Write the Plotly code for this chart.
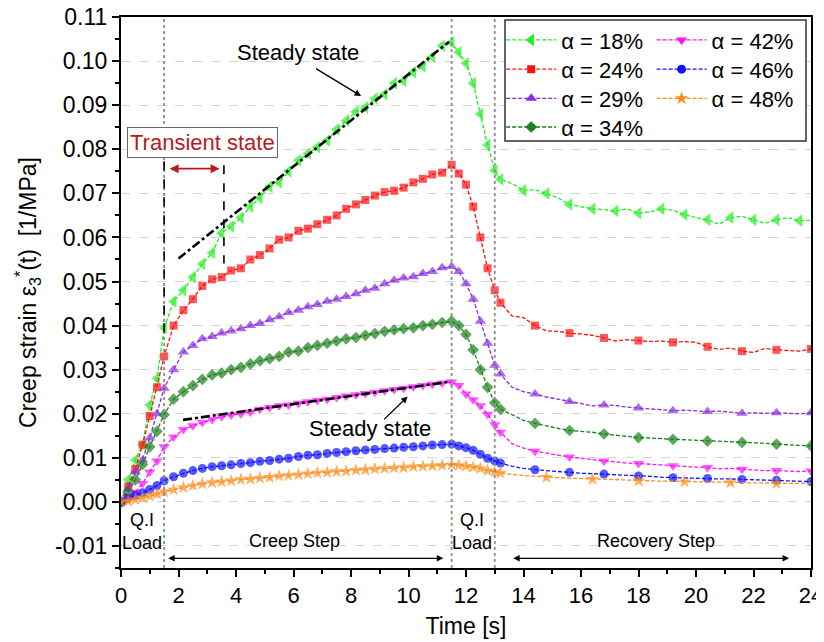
import plotly.graph_objects as go

# ---------------- data ----------------
t_load = [0, 0.25, 0.5, 0.75, 1.0, 1.25, 1.5]
t_creep = [1.83, 2.17, 2.5, 2.83, 3.17, 3.5, 3.83, 4.17, 4.5, 4.83, 5.17, 5.5, 5.83, 6.17, 6.5,
           6.83, 7.17, 7.5, 7.83, 8.17, 8.5, 8.83, 9.17, 9.5, 9.83, 10.17, 10.5, 10.83, 11.17, 11.5]
t_unload = [11.75, 12.0, 12.25, 12.5, 12.75, 13.0]
t_recovery = [13.2, 13.6, 14.0, 14.4, 14.8, 15.2, 15.6, 16.0, 16.4, 16.8, 17.2, 17.6, 18.0, 18.4,
              18.8, 19.2, 19.6, 20.0, 20.4, 20.8, 21.2, 21.6, 22.0, 22.4, 22.8, 23.2, 23.6, 24.0]
time = t_load + t_creep + t_unload + t_recovery

labels = ["α = 18%", "α = 24%", "α = 29%", "α = 34%", "α = 42%", "α = 46%", "α = 48%"]

a18 = [0, .005, .0095, .013, .022, .028, .0395,
       .0455, .048, .051, .054, .0565, .061, .0625, .0645, .067, .069, .0715, .0725, .075, .0775, .079,
       .0805, .082, .0845, .0865, .0885, .0895, .0915, .0925, .0950, .0955, .0975, .0988, .101, .1035, .1042,
       .102, .0995, .095, .088, .081, .0752,
       .0732, .0722, .0707, .0708, .070, .069, .0675, .067, .0665, .0663, .066, .0665, .0655, .0658,
       .0665, .0662, .0652, .0645, .064, .063, .0645, .0648, .064, .0632, .064, .0645, .0638, .0639]
a24 = [0, .0035, .0075, .013, .0195, .026, .033,
       .040, .0435, .046, .049, .0505, .051, .0525, .053, .055, .056, .0575, .0595, .060, .0615, .062,
       .063, .064, .065, .0665, .0675, .0685, .0695, .0703, .0706, .0713, .0725, .0733, .0743, .0747, .0765,
       .0745, .072, .067, .060, .053, .048,
       .0452, .0422, .0418, .040, .0388, .0387, .0383, .0381, .0378, .0372, .0365, .0368, .0366, .0364,
       .0365, .0362, .0364, .0362, .0352, .0346, .0349, .0342, .0339, .0348, .0345, .0343, .0342, .0347]
a29 = [0, .003, .0068, .0095, .0145, .020, .0258,
       .030, .034, .0355, .037, .0375, .0383, .0388, .0393, .040, .0405, .0413, .042, .043, .0435, .0443,
       .0448, .0455, .046, .0466, .0472, .048, .0485, .0495, .0503, .0508, .0511, .0518, .0523, .0531, .0534,
       .0523, .0495, .046, .041, .036, .031,
       .029, .026, .025, .0245, .0238, .0233, .0228, .0224, .0218, .022, .0219, .0215, .0213, .0211,
       .021, .0207, .0208, .0206, .0205, .0206, .0203, .0201, .0202, .0201, .0202, .0201, .0200, .0202]
a34 = [0, .0022, .005, .0085, .0125, .016, .0198,
       .0233, .025, .0264, .0278, .0288, .0292, .030, .0305, .0313, .032, .0325, .033, .034, .0342, .035,
       .0355, .036, .0365, .037, .0373, .0378, .0382, .0387, .039, .0393, .0395, .040, .0403, .0407, .041,
       .040, .038, .0345, .030, .026, .0225,
       .021, .0198, .0185, .0178, .0172, .0167, .0162, .016, .0158, .0154, .0151, .0148, .0146, .0145,
       .0143, .0142, .0141, .014, .0138, .0137, .0136, .0135, .0134, .0133, .0131, .013, .0128, .0127]
a42 = [0, .0009, .0022, .0042, .0068, .0093, .0125,
       .0147, .0164, .0173, .018, .0187, .0193, .0197, .020, .0204, .021, .0214, .0218, .022, .0224, .0227,
       .023, .0233, .0237, .024, .0243, .0246, .0249, .0252, .0255, .0258, .0261, .0264, .0267, .027, .0272,
       .0264, .0245, .0232, .0218, .0199, .0175,
       .0158, .0132, .0122, .0115, .011, .0106, .0102, .0099, .0095, .0093, .0091, .0088, .0087, .0086,
       .0084, .0082, .008, .0079, .0078, .0075, .0076, .0074, .0072, .0071, .0071, .007, .0069, .007]
a46 = [0, .0008, .0015, .0021, .0028, .0037, .0048,
       .0057, .0065, .0071, .0076, .008, .0082, .0084, .0087, .0089, .0092, .0094, .0097, .0099, .0103, .0106,
       .0107, .011, .0112, .0114, .0116, .0118, .0119, .0121, .0122, .0124, .0125, .0127, .0129, .013, .0131,
       .0127, .0123, .0117, .0108, .0099, .0093,
       .0088, .0081, .0076, .0073, .0071, .0068, .0067, .0065, .0064, .0063, .0062, .006, .0059, .0058,
       .0056, .0055, .0054, .0053, .0053, .0052, .0052, .0051, .005, .0049, .0049, .0048, .0047, .0046]
a48 = [0, .0002, .0005, .0009, .0013, .0018, .0023,
       .0028, .0033, .0037, .0041, .0044, .0046, .0048, .0051, .0052, .0054, .0056, .0059, .006, .0062, .0064,
       .0066, .0067, .0069, .007, .0072, .0073, .0075, .0076, .0077, .0078, .008, .0081, .0082, .0083, .0084,
       .0083, .0081, .0079, .0076, .0071, .0068,
       .0066, .0062, .006, .0058, .0056, .0055, .0054, .0053, .0052, .0052, .005, .0049, .0048, .0048,
       .0047, .0047, .0046, .0046, .0045, .0045, .0044, .0044, .0043, .0043, .0042, .0042, .0042, .0042]

series = [a18, a24, a29, a34, a42, a46, a48]

# steady-state guide lines
steady1_x = [2.0, 11.41]
steady1_y = [0.0552, 0.1044]
steady2_x = [2.16, 11.47]
steady2_y = [0.0186, 0.0273]

x_ticks = [0, 2, 4, 6, 8, 10, 12, 14, 16, 18, 20, 22, 24]
y_ticks = [-0.01, 0.0, 0.01, 0.02, 0.03, 0.04, 0.05, 0.06, 0.07, 0.08, 0.09, 0.10, 0.11]

# ---------------- style ----------------
colors = ["#22ee22", "#ff1010", "#8a2be2", "#1a801a", "#ff10ff", "#1010ff", "#ff8c1a"]
symbols = ["triangle-left", "square", "triangle-up", "diamond", "triangle-down", "circle", "star"]
msize = [11, 8, 10, 9, 10, 9, 10]
rec_every = [2, 3, 3, 3, 3, 3, 4]
# legend placement (paper coords): column x, row y
leg_x = [0.551, 0.551, 0.551, 0.551, 0.769, 0.769, 0.769]
leg_y = [0.958, 0.905, 0.852, 0.800, 0.958, 0.905, 0.852]

FONT = "Arial, Liberation Sans, sans-serif"
n_main = len(t_load) + len(t_creep) + len(t_unload)

fig = go.Figure()

for i, vals in enumerate(series):
    sizes = []
    for k in range(len(time)):
        if k < n_main:
            sizes.append(msize[i])
        else:
            j = k - n_main
            sizes.append(msize[i] if j % rec_every[i] == 0 else 0)
    fig.add_trace(go.Scatter(
        x=time, y=vals, mode="lines+markers", showlegend=False,
        line=dict(color=colors[i], width=1.3, dash="4px,2px"),
        marker=dict(symbol=symbols[i], size=sizes, color=colors[i], line=dict(width=0)),
    ))

for x_, y_ in [(steady1_x, steady1_y), (steady2_x, steady2_y)]:
    fig.add_trace(go.Scatter(x=x_, y=y_, mode="lines", showlegend=False,
                             line=dict(color="black", width=2.6, dash="dashdot")))

# legend-only entries, one legend per entry for exact placement
legend_layouts = {}
for i in range(len(series)):
    lid = "legend" if i == 0 else "legend%d" % (i + 1)
    fig.add_trace(go.Scatter(
        x=[None], y=[None], mode="lines+markers", name=labels[i], legend=lid,
        line=dict(color=colors[i], width=1.3, dash="4px,2px"),
        marker=dict(symbol=symbols[i], size=msize[i], color=colors[i], line=dict(width=0)),
    ))
    legend_layouts[lid] = dict(x=leg_x[i], y=leg_y[i], xanchor="left", yanchor="middle",
                               bgcolor="rgba(0,0,0,0)", borderwidth=0,
                               font=dict(size=22, family=FONT, color="black"), itemwidth=50)

shapes = []
for xv in [1.5, 11.5, 13.0]:
    shapes.append(dict(type="line", xref="x", yref="paper", x0=xv, x1=xv, y0=0, y1=1,
                       line=dict(color="#8c8c8c", width=1.8, dash="dot"), layer="above"))
shapes.append(dict(type="line", xref="x", yref="y", x0=1.5, x1=1.5, y0=0.0773, y1=0.0385,
                   line=dict(color="black", width=1.6, dash="dash"), layer="above"))
shapes.append(dict(type="line", xref="x", yref="y", x0=3.58, x1=3.58, y0=0.0764, y1=0.0541,
                   line=dict(color="black", width=1.6, dash="dash"), layer="above"))
shapes.append(dict(type="rect", xref="paper", yref="paper", x0=0.5565, x1=0.9928, y0=0.775, y1=0.9946,
                   line=dict(color="#333333", width=1.5), fillcolor="white", layer="above"))

ann = []
def arrow(x_head, y_head, x_tail, y_tail, color="black", width=1.3, both=False, size=1.0):
    ann.append(dict(x=x_head, y=y_head, ax=x_tail, ay=y_tail, xref="x", yref="y", axref="x", ayref="y",
                    text="", showarrow=True, arrowhead=2, arrowsize=size, arrowwidth=width,
                    arrowcolor=color, arrowside="end+start" if both else "end"))

def text(x, y, s, size=20, color="black", **kw):
    d = dict(x=x, y=y, xref="x", yref="y", text=s, showarrow=False,
             font=dict(family=FONT, size=size, color=color))
    d.update(kw)
    ann.append(d)

text(6.17, 0.102, "Steady state", 22)
arrow(8.35, 0.0921, 6.73, 0.0985)
text(8.67, 0.0166, "Steady state", 22)
arrow(9.97, 0.0239, 9.1, 0.0184)
text(2.84, 0.0816, "Transient state", 22, "#b51c1c", bordercolor="#666666", borderwidth=1,
     borderpad=2, bgcolor="white")
arrow(3.43, 0.0756, 1.64, 0.0756, color="#b51c1c", width=1.8, both=True, size=1.0)
text(0.72, -0.0068, "Q.I<br>Load", 18)
text(12.22, -0.0068, "Q.I<br>Load", 18)
text(6.05, -0.0089, "Creep Step", 18)
arrow(11.21, -0.0128, 1.59, -0.0128, width=1.3, both=True)
text(18.6, -0.0089, "Recovery Step", 18)
arrow(23.24, -0.0128, 13.59, -0.0128, width=1.3, both=True)

# the page places the figure 8px from the top-left corner, so the figure is 8px smaller
fig.update_layout(
    width=816, height=634,
    margin=dict(l=113, r=13, t=9, b=74, autoexpand=False),
    paper_bgcolor="white", plot_bgcolor="white",
    font=dict(family=FONT, size=20, color="black"),
    shapes=shapes, annotations=ann,
    **legend_layouts,
)

fig.update_xaxes(
    range=[0, 24], tickmode="array", tickvals=x_ticks, ticktext=[str(v) for v in x_ticks],
    ticks="outside", ticklen=7, tickwidth=1.5, tickcolor="black", automargin=False,
    ticklabeloverflow="allow",
    minor=dict(dtick=1, ticks="outside", ticklen=4, tickwidth=1.5, tickcolor="black", showgrid=False),
    showline=True, linecolor="black", linewidth=2, mirror=True, showgrid=False, zeroline=False,
    tickfont=dict(size=22, family=FONT),
    title=dict(text="Time [s]", font=dict(size=23, family=FONT), standoff=10),
)
fig.update_yaxes(
    range=[-0.015, 0.11002], tickmode="array", tickvals=y_ticks,
    ticktext=["%.2f" % v for v in y_ticks], automargin=False,
    ticklabeloverflow="allow",
    ticks="outside", ticklen=7, tickwidth=1.5, tickcolor="black",
    minor=dict(dtick=0.005, tick0=0, ticks="outside", ticklen=4, tickwidth=1.5, tickcolor="black",
               showgrid=False),
    showline=True, linecolor="black", linewidth=2, mirror=True, zeroline=False,
    showgrid=True, gridcolor="#d4d4d4", griddash="dash", gridwidth=1,
    tickfont=dict(size=23, family=FONT),
    title=dict(text="Creep strain ε<sub>3</sub><sup>*</sup>(t)&nbsp;&nbsp;[1/MPa]",
               font=dict(size=23, family=FONT), standoff=12),
)

fig.write_html("out.html")
